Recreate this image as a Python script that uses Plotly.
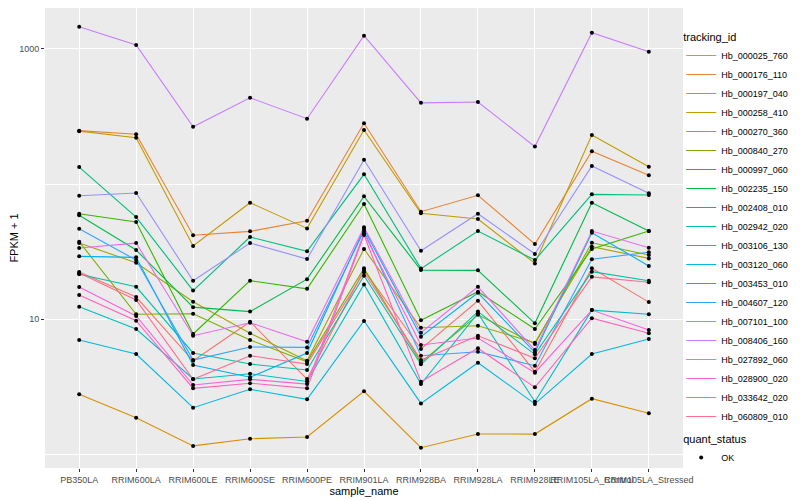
import plotly.graph_objects as go

samples = ["PB350LA", "RRIM600LA", "RRIM600LE", "RRIM600SE", "RRIM600PE", "RRIM901LA",
           "RRIM928BA", "RRIM928LA", "RRIM928LE", "RRIM105LA_Control", "RRIM105LA_Stressed"]

tracking_ids = ["Hb_000025_760", "Hb_000176_110", "Hb_000197_040", "Hb_000258_410",
                "Hb_000270_360", "Hb_000840_270", "Hb_000997_060", "Hb_002235_150",
                "Hb_002408_010", "Hb_002942_020", "Hb_003106_130", "Hb_003120_060",
                "Hb_003453_010", "Hb_004607_120", "Hb_007101_100", "Hb_008406_160",
                "Hb_027892_060", "Hb_028900_020", "Hb_033642_020", "Hb_060809_010"]

colors = ["#F8766D", "#EA8331", "#D89000", "#C09B00", "#A3A500", "#7CAE00", "#39B600",
          "#00BB4E", "#00BF7D", "#00C1A3", "#00BFC4", "#00BAE0", "#00B0F6", "#35A2FF",
          "#9590FF", "#C77CFF", "#E76BF3", "#FA62DB", "#FF62BC", "#FF6C91"]

# FPKM + 1 values, one list per tracking_id (order of samples)
hb_000025_760 = [22.4, 14.6, 4.94, 9.60, 3.62, 23.1, 6.03, 13.7, 4.10, 23.8, 13.4]
hb_000176_110 = [248, 233, 41.8, 44.7, 53.5, 281, 62.4, 82.5, 36.0, 175, 116]
hb_000197_040 = [2.79, 1.87, 1.16, 1.31, 1.35, 2.94, 1.125, 1.42, 1.418, 2.59, 2.02]
hb_000258_410 = [246, 220, 34.8, 72.7, 47.0, 251, 60.7, 55.1, 25.9, 230, 134]
hb_000270_360 = [36.6, 26.2, 13.5, 7.88, 4.94, 33.1, 8.67, 8.97, 6.72, 34.4, 28.2]
hb_000840_270 = [37.5, 10.9, 11.0, 7.03, 4.86, 23.8, 4.81, 10.8, 6.57, 36.8, 29.9]
hb_000997_060 = [60.3, 52.4, 7.79, 19.3, 16.8, 71.2, 9.83, 16.0, 8.48, 33.1, 44.9]
hb_002235_150 = [58.7, 32.5, 12.3, 11.4, 19.8, 81.1, 23.1, 23.0, 9.34, 72.7, 44.9]
hb_002408_010 = [133.5, 57.0, 16.3, 40.6, 31.8, 117.9, 23.7, 44.9, 27.4, 83.9, 82.9]
hb_002942_020 = [21.5, 17.4, 5.64, 4.67, 4.22, 21.0, 4.65, 11.4, 5.51, 22.5, 19.3]
hb_003106_130 = [12.4, 8.48, 3.62, 3.96, 3.47, 18.1, 3.32, 11.1, 2.46, 11.7, 10.9]
hb_003120_060 = [7.03, 5.54, 2.22, 3.04, 2.56, 9.71, 2.39, 4.78, 2.37, 5.54, 7.15]
hb_003453_010 = [29.2, 28.7, 4.59, 3.73, 5.64, 46.5, 7.44, 15.7, 5.70, 43.7, 24.8]
hb_004607_120 = [46.7, 27.4, 5.00, 6.24, 6.20, 44.9, 5.38, 5.76, 4.54, 27.8, 31.3]
hb_007101_100 = [81.9, 85.8, 19.3, 36.6, 27.9, 151.2, 32.1, 60.3, 30.4, 135.8, 85.4]
hb_008406_160 = [1455, 1065, 265, 434, 304, 1248, 398, 404, 189, 1313, 950]
hb_027892_060 = [33.7, 36.6, 7.56, 9.44, 6.83, 47.9, 7.96, 17.4, 5.93, 44.9, 33.8]
hb_028900_020 = [17.3, 10.6, 3.27, 3.60, 3.32, 43.2, 6.46, 7.27, 4.03, 11.7, 8.33]
hb_033642_020 = [15.1, 9.76, 3.09, 3.37, 3.09, 42.0, 3.46, 6.11, 3.14, 10.2, 7.88]
hb_060809_010 = [22.0, 13.9, 3.60, 5.38, 4.67, 22.3, 5.00, 7.56, 5.15, 20.6, 18.8]

series = [hb_000025_760, hb_000176_110, hb_000197_040, hb_000258_410, hb_000270_360,
          hb_000840_270, hb_000997_060, hb_002235_150, hb_002408_010, hb_002942_020,
          hb_003106_130, hb_003120_060, hb_003453_010, hb_004607_120, hb_007101_100,
          hb_008406_160, hb_027892_060, hb_028900_020, hb_033642_020, hb_060809_010]

quant_status = "OK"

FONT = "Liberation Sans"
fig = go.Figure()

for name, col, vals in zip(tracking_ids, colors, series):
    fig.add_trace(go.Scatter(
        x=samples, y=vals, mode="lines", name=name,
        line=dict(color=col, width=1.1), legend="legend"))

all_x, all_y = [], []
for vals in series:
    all_x += samples
    all_y += vals
fig.add_trace(go.Scatter(
    x=all_x, y=all_y, mode="markers", name=quant_status,
    marker=dict(color="black", size=4), legend="legend2"))

# page body adds an 8px offset, so the figure is 792x492
fig.update_layout(
    width=792, height=492,
    paper_bgcolor="white", plot_bgcolor="#EBEBEB",
    margin=dict(l=37, r=117, t=0, b=32, autoexpand=False),
    font=dict(family=FONT, size=9, color="#4D4D4D"),
    legend=dict(
        title=dict(text="tracking_id", font=dict(size=11, color="black")),
        font=dict(size=9, color="black"),
        xref="container", yref="container",
        x=0.85, y=0.962, xanchor="left", yanchor="top",
        bgcolor="rgba(0,0,0,0)", tracegroupgap=0, itemwidth=30,
        maxheight=1,
    ),
    legend2=dict(
        title=dict(text="quant_status", font=dict(size=11, color="black")),
        font=dict(size=9, color="black"),
        xref="container", yref="container",
        x=0.85, y=0.145, xanchor="left", yanchor="top",
        bgcolor="rgba(0,0,0,0)", itemwidth=30,
    ),
    showlegend=True,
)

fig.update_xaxes(
    type="category", range=[-0.6, 10.6], automargin=False,
    showgrid=True, gridcolor="white", gridwidth=1.1,
    ticks="outside", ticklen=3, tickcolor="#333333", tickwidth=1,
    tickangle=0, tickfont=dict(size=9, color="#4D4D4D"),
    title=dict(text="sample_name", font=dict(size=11, color="black"), standoff=0),
    zeroline=False, showline=False,
)

fig.update_yaxes(
    type="log", range=[-0.099, 3.301], automargin=False,
    tickmode="array", tickvals=[10, 1000], ticktext=["10", "1000"],
    showgrid=True, gridcolor="white", gridwidth=1.1,
    ticks="outside", ticklen=3, tickcolor="#333333", tickwidth=1,
    tickfont=dict(size=9, color="#4D4D4D"),
    minor=dict(tickmode="array", tickvals=[1, 100], showgrid=True,
               gridcolor="white", gridwidth=0.55, ticks=""),
    title=dict(text="FPKM + 1", font=dict(size=11, color="black"), standoff=0),
    zeroline=False, showline=False,
)

fig.write_html("out.html")
